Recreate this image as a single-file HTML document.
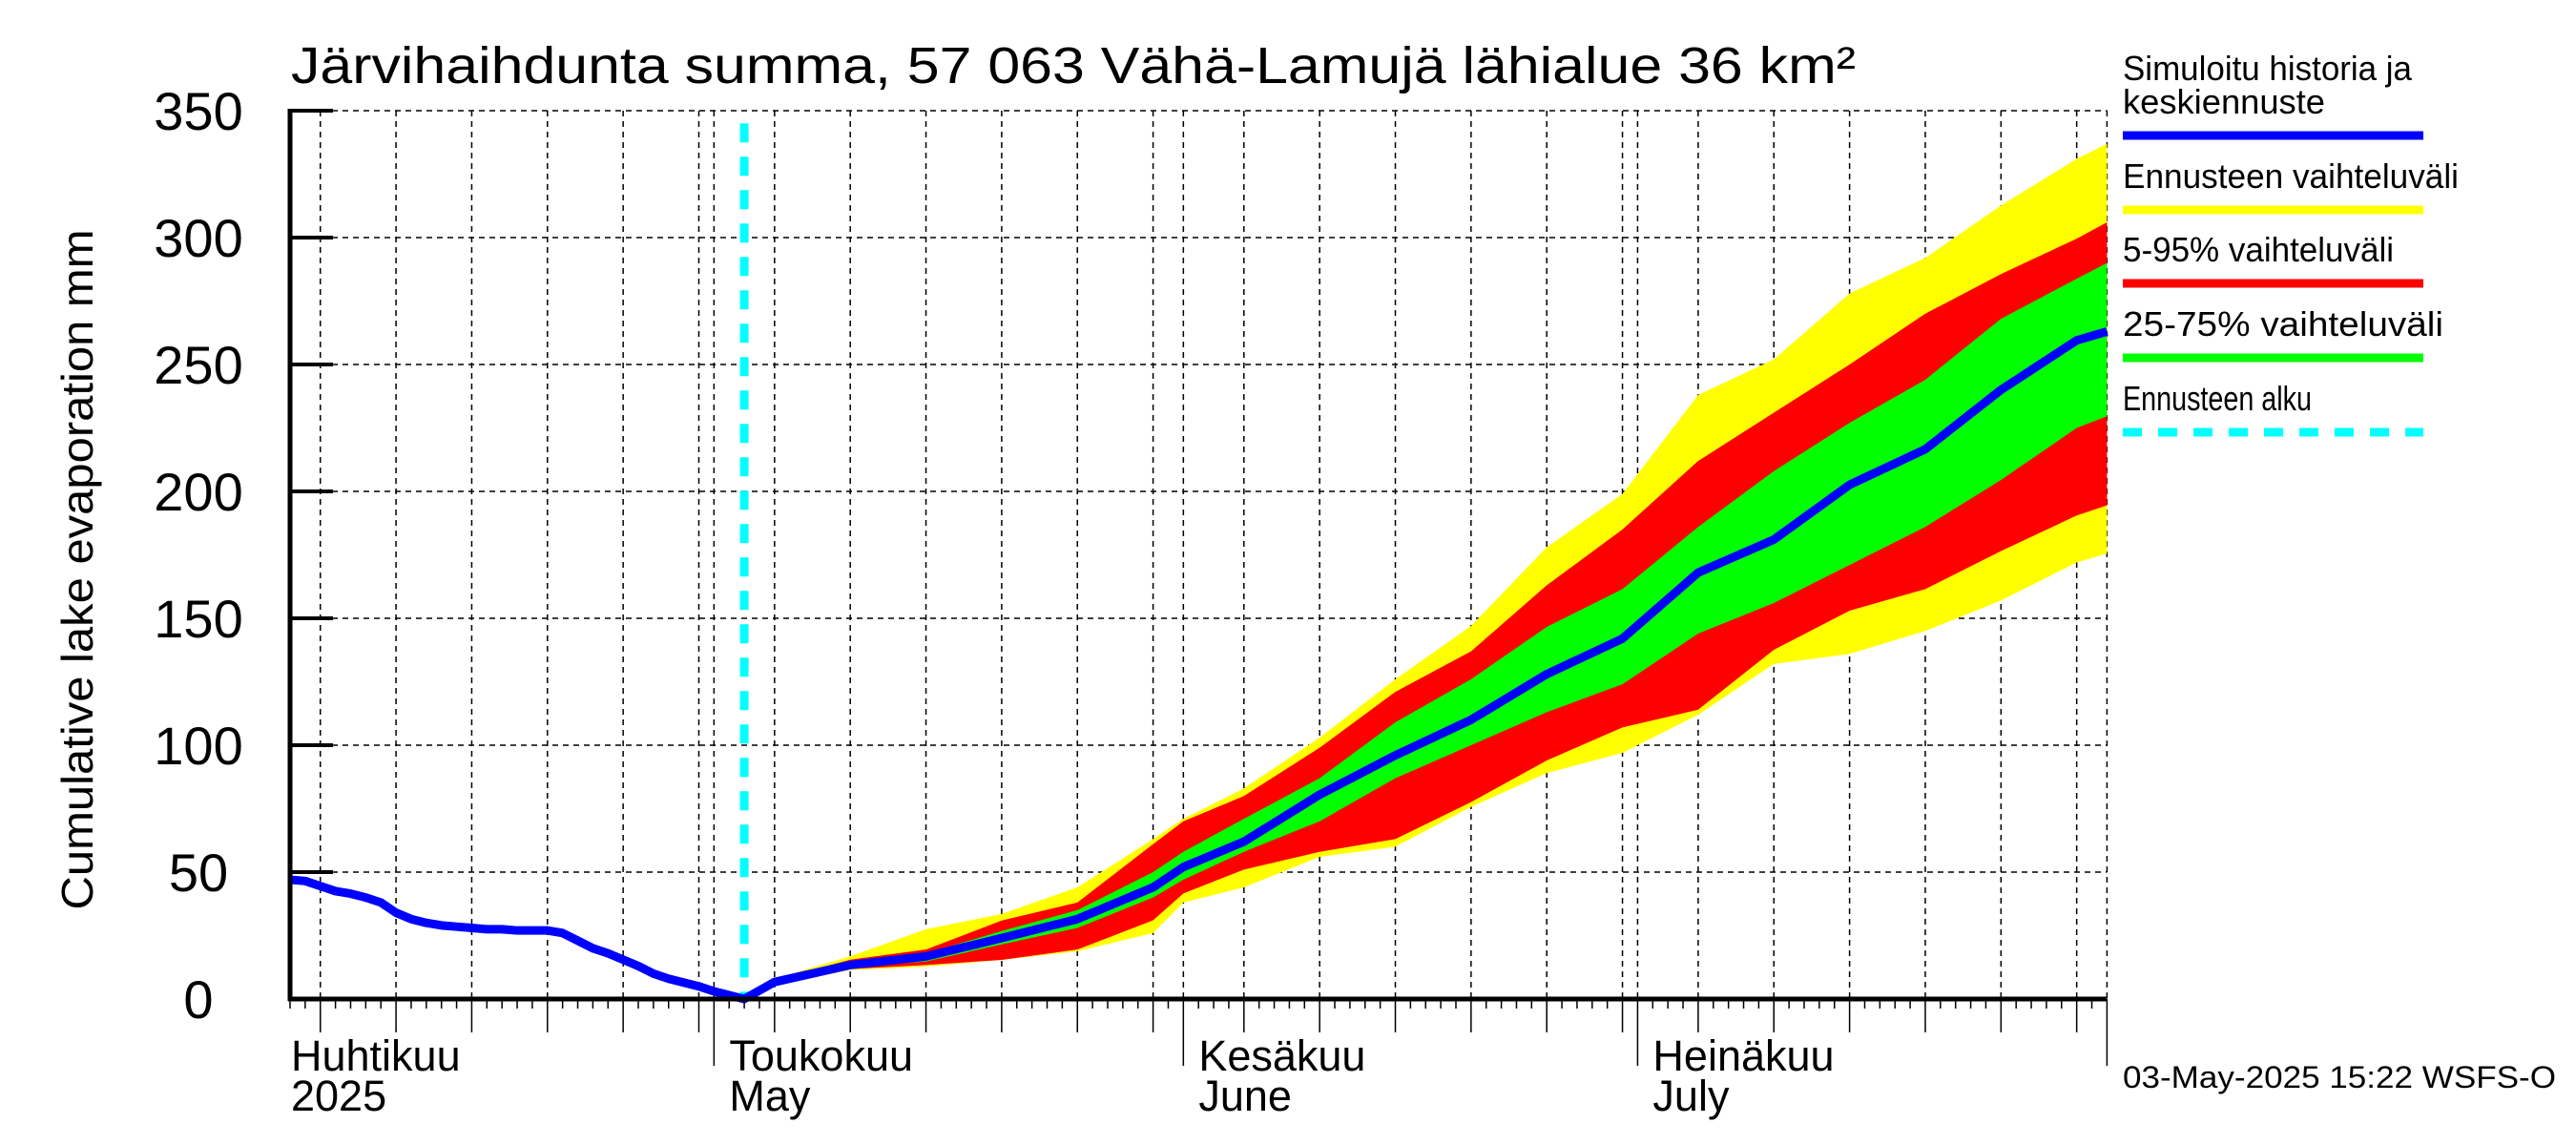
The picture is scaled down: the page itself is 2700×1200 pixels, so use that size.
<!DOCTYPE html>
<html><head><meta charset="utf-8"><style>
html,body{margin:0;padding:0;background:#fff;}
svg{display:block;font-family:"Liberation Sans",sans-serif;}
</style></head><body>
<svg id="chart" width="2700" height="1200" viewBox="0 0 2700 1200" xmlns="http://www.w3.org/2000/svg">
<text x="305" y="87" font-size="54" textLength="1640" lengthAdjust="spacingAndGlyphs">Järvihaihdunta summa, 57 063 Vähä-Lamujä lähialue 36 km²</text>
<text transform="translate(97,597) rotate(-90)" text-anchor="middle" font-size="46" textLength="713" lengthAdjust="spacingAndGlyphs">Cumulative lake evaporation   mm</text>
<g id="grid"></g>
<g id="bands"></g>
<g id="lines"></g>
<g id="axes"></g>
<g id="legend">
<text x="2225" y="84" font-size="36" textLength="303" lengthAdjust="spacingAndGlyphs">Simuloitu historia ja</text>
<text x="2225" y="119" font-size="36" textLength="212" lengthAdjust="spacingAndGlyphs">keskiennuste</text>
<line x1="2225" x2="2540" y1="142" y2="142" stroke="#0000ff" stroke-width="9"/>
<text x="2225" y="197" font-size="36" textLength="352" lengthAdjust="spacingAndGlyphs">Ennusteen vaihteluväli</text>
<line x1="2225" x2="2540" y1="220" y2="220" stroke="#ffff00" stroke-width="9"/>
<text x="2225" y="274" font-size="36" textLength="284" lengthAdjust="spacingAndGlyphs">5-95% vaihteluväli</text>
<line x1="2225" x2="2540" y1="297" y2="297" stroke="#ff0000" stroke-width="9"/>
<text x="2225" y="352" font-size="36" textLength="336" lengthAdjust="spacingAndGlyphs">25-75% vaihteluväli</text>
<line x1="2225" x2="2540" y1="375" y2="375" stroke="#00ff00" stroke-width="9"/>
<text x="2225" y="430" font-size="36" textLength="198" lengthAdjust="spacingAndGlyphs">Ennusteen alku</text>
<line x1="2225" x2="2540" y1="453" y2="453" stroke="#00ffff" stroke-width="9" stroke-dasharray="20,17"/>
</g>
<text x="2225" y="1140" font-size="32" textLength="454" lengthAdjust="spacingAndGlyphs">03-May-2025 15:22 WSFS-O</text>
</svg>
<script>
// data (day index 0 = 3 Apr 2025)
const histDays = [0,1,2,3,4,5,6,7,8,9,10,11,12,13,14,15,16,17,18,19,20,21,22,23,24,25,26,27,28,29,30];
const histVals = [47,46.5,44.5,42.5,41.5,40,38,34,31.5,30,29,28.5,28,27.5,27.5,27,27,27,26,23,20,18,15.5,13,10,8,6.5,5,3,1.5,0];
const fcDays = [30,32,37,42,47,52,57,59,63,68,73,78,83,88,93,98,103,108,113,118,120];
const median = [0,6.7,13.4,16.8,24,31.5,44,52,62,80.5,96,110,128,142,168,181,202.6,216.6,240,259.5,263];
const yMax = [0,8,16.8,27.5,33.5,44,63,71,83,103,126,147,178,199,238,252,278,292,312.7,331,337];
const rMax = [0,7.5,15.5,19.5,30.9,38,61,70,80,99,121,137,163,185,212,231,250,270,285.6,299.6,306];
const gMax = [0,7,14.5,18,26.8,35,50,58,71,87,109,126,146.6,161.5,186,208,227,244,268,283.8,290];
const gMin = [0,6.5,12.5,14.8,21.5,28,40,47,58,70,87,100,113,124,144,156,171,186,204.5,225,229.6];
const rMin = [0,6,11.8,13.4,15.4,19.5,31,41.6,51,58,63,77.6,94,107,114,137.6,153,161.5,176.5,190.5,194.5];
const yMin = [0,5.5,11.4,12.8,15.4,18.8,26,38,44,56,60,75.7,89,97,112,132,136,145,157,172,175.5];
const yTicks = [0,50,100,150,200,250,300,350];
const monthStarts = [28,59,89,120];
const majorDays = [2,7,12,17,22,27,32,37,42,47,52,57,63,68,73,78,83,88,93,98,103,108,113,118];
const monthLabels = [["Huhtikuu","2025",-2],["Toukokuu","May",28],["Kesäkuu","June",59],["Heinäkuu","July",89]];
const forecastStartDay = 30;

const X0=304, DX=15.87, Y0=1047, DY=2.66, NDAYS=120;
const sx = d => X0 + d*DX;
const sy = v => Y0 - v*DY;
const NS="http://www.w3.org/2000/svg";
function mk(tag, parent, attrs){const e=document.createElementNS(NS,tag);for(const k in attrs)e.setAttribute(k,attrs[k]);parent.appendChild(e);return e;}
const grid=document.getElementById('grid'), bands=document.getElementById('bands'), lines=document.getElementById('lines'), axes=document.getElementById('axes');
const xR = sx(NDAYS), yT = sy(350);

yTicks.forEach(v=>{
  if(v>0){const l=mk('line',grid,{x1:X0,x2:xR,y1:sy(v),y2:sy(v),stroke:'#000','stroke-width':1.5,'stroke-dasharray':'6,5'});
  
  }
  const t=mk('line',axes,{x1:X0,x2:X0+45,y1:sy(v),y2:sy(v),stroke:'#000','stroke-width':4});
  
  
  const tx=mk('text',axes,{x:208,y:sy(v)+20,'font-size':56,'text-anchor':'middle'});
  tx.textContent=v;
  
  
});
majorDays.concat(monthStarts).forEach(d=>{
  const l=mk('line',grid,{x1:sx(d),x2:sx(d),y1:yT,y2:Y0,stroke:'#000','stroke-width':1.5,'stroke-dasharray':'6,5'});
  
  
});

function band(hi, lo, color, name){
  let pts=[];
  for(let i=0;i<fcDays.length;i++)pts.push(sx(fcDays[i])+','+sy(hi[i]));
  for(let i=fcDays.length-1;i>=0;i--)pts.push(sx(fcDays[i])+','+sy(lo[i]));
  const p=mk('polygon',bands,{points:pts.join(' '),fill:color});
  
  
}
band(yMax,yMin,'#ffff00','range-band');
band(rMax,rMin,'#ff0000','band-5-95');
band(gMax,gMin,'#00ff00','band-25-75');

const fl=mk('line',lines,{x1:sx(forecastStartDay),x2:sx(forecastStartDay),y1:sy(345),y2:Y0,stroke:'#00ffff','stroke-width':9,'stroke-dasharray':'20,15'});



let mp=[];
histDays.forEach((d,i)=>mp.push(sx(d)+','+sy(histVals[i])));
fcDays.forEach((d,i)=>{if(i>0)mp.push(sx(d)+','+sy(median[i]));});
const ml=mk('polyline',lines,{points:mp.join(' '),fill:'none',stroke:'#0000ff','stroke-width':9,'stroke-linejoin':'round'});



const ax1=mk('line',axes,{x1:X0,x2:X0,y1:yT-2,y2:Y0+2,stroke:'#000','stroke-width':5});


const ax2=mk('line',axes,{x1:X0-2,x2:xR,y1:Y0,y2:Y0,stroke:'#000','stroke-width':5});


for(let d=0;d<=NDAYS;d++){
  let len=10;
  if(majorDays.includes(d))len=35;
  if(monthStarts.includes(d))len=70;
  const t=mk('line',axes,{x1:sx(d),x2:sx(d),y1:Y0,y2:Y0+len,stroke:'#000','stroke-width':1.5});
  
  
}
monthLabels.forEach(m=>{
  const x = m[2]<0 ? X0+1 : sx(m[2])+16;
  const a=mk('text',axes,{x:x,y:1122,'font-size':45});
  a.textContent=m[0];
  
  
  const b=mk('text',axes,{x:x,y:1164,'font-size':45});
  b.textContent=m[1];
  
  
});
</script>
</body></html>
